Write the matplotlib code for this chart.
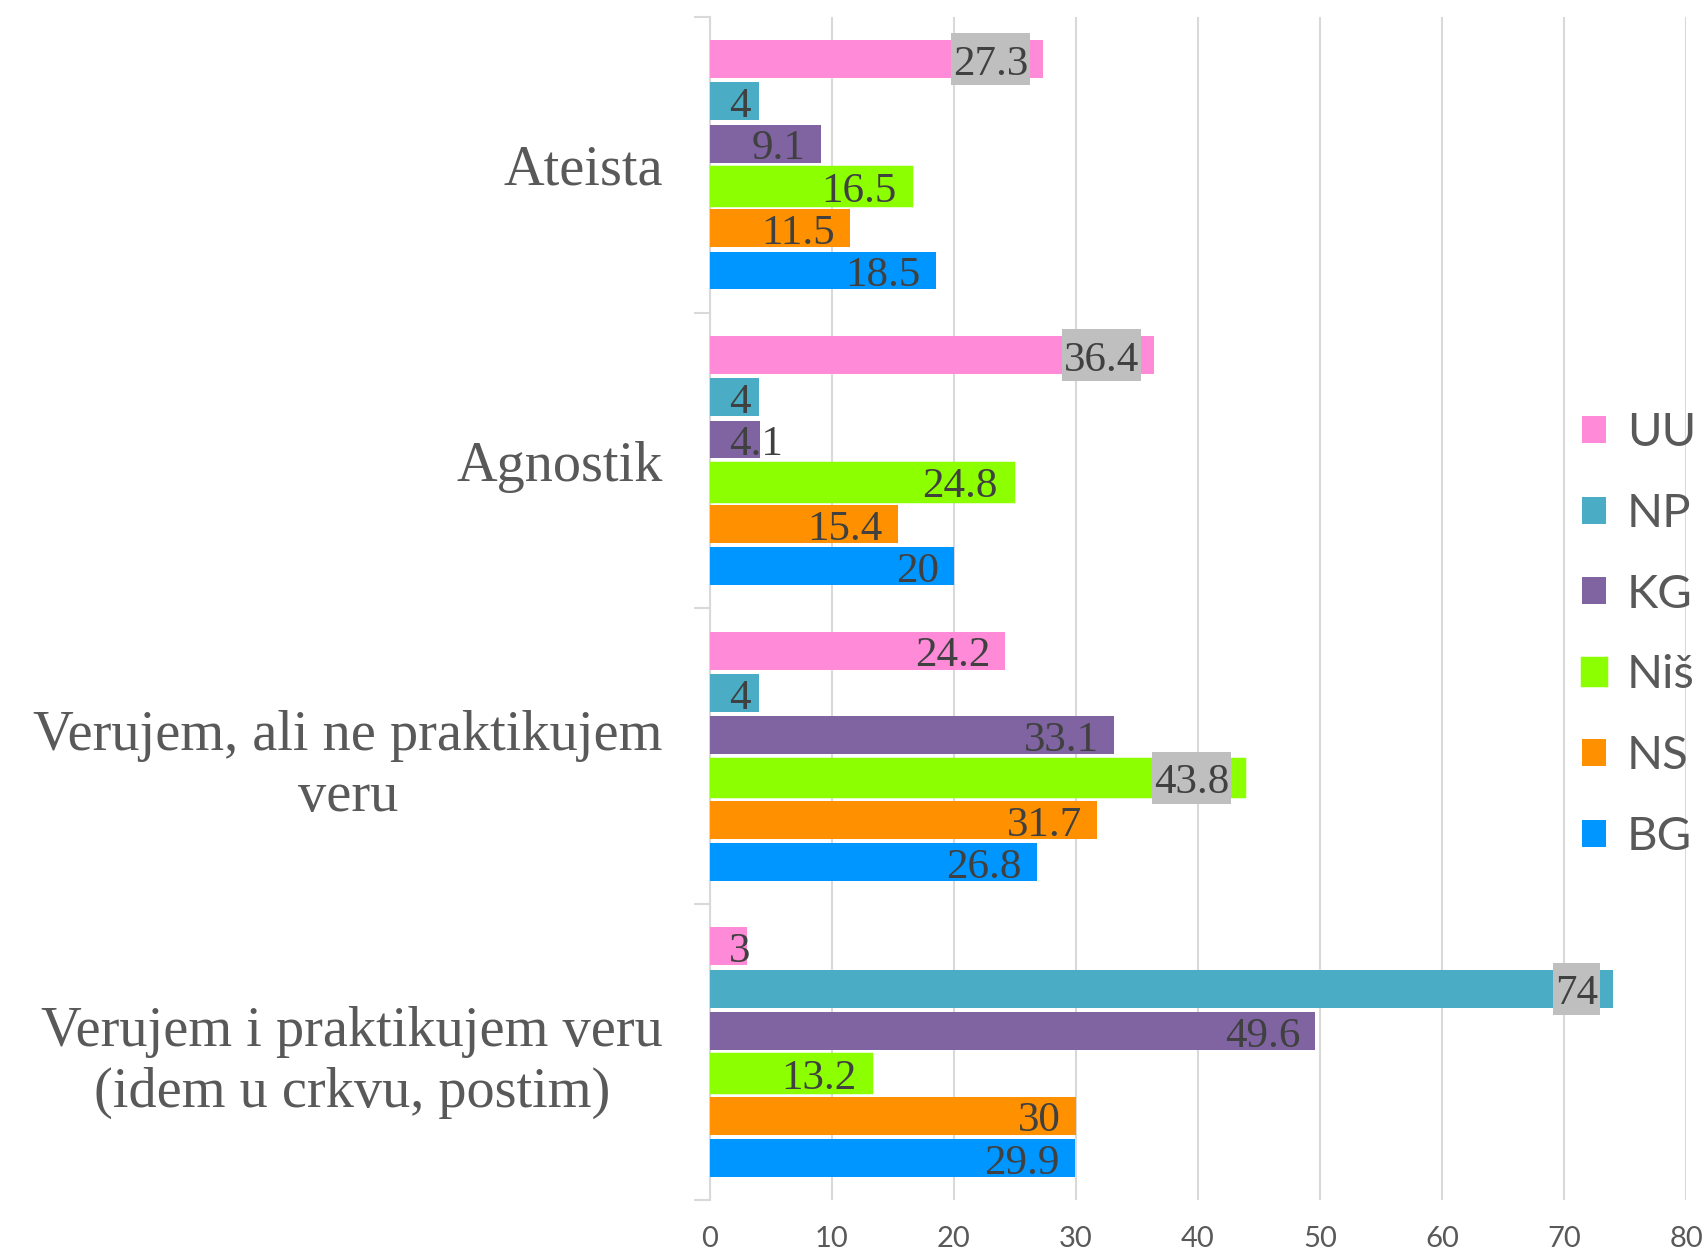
import matplotlib
matplotlib.use("Agg")
import numpy as np
import matplotlib.pyplot as plt
from matplotlib.patches import Patch, Rectangle
from matplotlib.transforms import IdentityTransform

# podaci
categories = ["Ateista", "Agnostik", "Verujem, ali ne praktikujem\nveru",
              "Verujem i praktikujem veru\n(idem u crkvu, postim)"]
series = ["UU", "NP", "KG", "Niš", "NS", "BG"]
UU = [27.3, 36.4, 24.2, 3]
NP = [4, 4, 4, 74]
KG = [9.1, 4.1, 33.1, 49.6]
Nis = [16.5, 24.8, 43.8, 13.2]
NS = [11.5, 15.4, 31.7, 30]
BG = [18.5, 20, 26.8, 29.9]
values = [UU, NP, KG, Nis, NS, BG]
colors = ["#FF8AD8", "#4BACC6", "#8064A2", "#8CFF00", "#FF9100", "#0096FF"]
x_ticks = [0, 10, 20, 30, 40, 50, 60, 70, 80]

grid_c = "#D9D9D9"
text_c = "#595959"
label_c = "#404040"
serif = "Liberation Serif"

dpi = 100
fig = plt.figure(figsize=(17.05, 12.55), dpi=dpi)
ax = fig.add_axes([0.4164, 0.0438, 0.9889 - 0.4164, 0.9865 - 0.0438])

pitch = 0.143
bar_h = 0.128
y = np.arange(len(categories))

labels = []
for j, (name, vals, c) in enumerate(zip(series, values, colors)):
    pos = y + (j - 2.5) * pitch
    lw = 2.5 if name == "Niš" else 0
    ax.barh(pos, vals, height=bar_h, color=c, edgecolor=c, linewidth=lw, zorder=3)
    for i, v in enumerate(vals):
        is_max = v == max(col[i] for col in values)
        t = ax.annotate(f"{v:g}", xy=(v, pos[i]), xytext=(-15, -1),
                        textcoords="offset pixels", ha="right", va="center_baseline",
                        fontsize=31, family=serif, color=label_c, zorder=5)
        labels.append((t, is_max))

ax.set_xlim(0, 80)
ax.set_ylim(3.5, -0.5)
ax.set_xticks(x_ticks)
ax.set_xticklabels([str(v) for v in x_ticks], family="Lato", fontsize=21, color=text_c)
ax.tick_params(axis="x", length=0, pad=19)
ax.set_yticks(y)
ax.set_yticklabels(categories, family=serif, fontsize=40.6, color=text_c)
for tl in ax.get_yticklabels():
    tl.set_multialignment("center")
    tl.set_linespacing(1.22)
ax.tick_params(axis="y", which="major", length=0, pad=34)
ax.set_yticks(np.arange(-0.5, 4, 1), minor=True)
ax.tick_params(axis="y", which="minor", length=11.5, width=1.5, color=grid_c)

ax.grid(axis="x", color=grid_c, linewidth=1.5, zorder=0)
ax.set_axisbelow(True)
for s in ["top", "right", "bottom"]:
    ax.spines[s].set_visible(False)
ax.spines["left"].set_color(grid_c)
ax.spines["left"].set_linewidth(1.5)

handles = [Patch(facecolor=c, edgecolor=c, linewidth=2.5 if n == "Niš" else 0) for n, c in zip(series, colors)]
fig.legend(handles, series, loc="center left", bbox_to_anchor=(0.928, 0.494),
           frameon=False, prop={"family": "Lato", "size": 34}, labelcolor=text_c,
           handlelength=0.5, handleheight=0.5, handletextpad=0.45, labelspacing=0.82,
           borderpad=0, borderaxespad=0)

# oznake koje ne stanu pomeri desno od ose, a najvece dobijaju sivu pozadinu
fig.canvas.draw()
r = fig.canvas.get_renderer()
x_axis = ax.transData.transform((0, 0))[0]
for t, is_max in labels:
    bb = t.get_window_extent(r)
    if bb.x0 < x_axis + 19:
        t.xy = (0, t.xy[1])
        t.xyann = (19, -1)
        t.set_ha("left")
fig.canvas.draw()
for t, is_max in labels:
    if not is_max:
        continue
    bb = t.get_window_extent(r)
    cy = ax.transData.transform(t.xy)[1]
    box = Rectangle((bb.x0 - 2, cy - 26), bb.width + 4, 52, transform=IdentityTransform(),
                    facecolor="#BFBFBF", edgecolor="none", zorder=4)
    ax.add_artist(box)

fig.savefig("out.png", dpi=dpi)
